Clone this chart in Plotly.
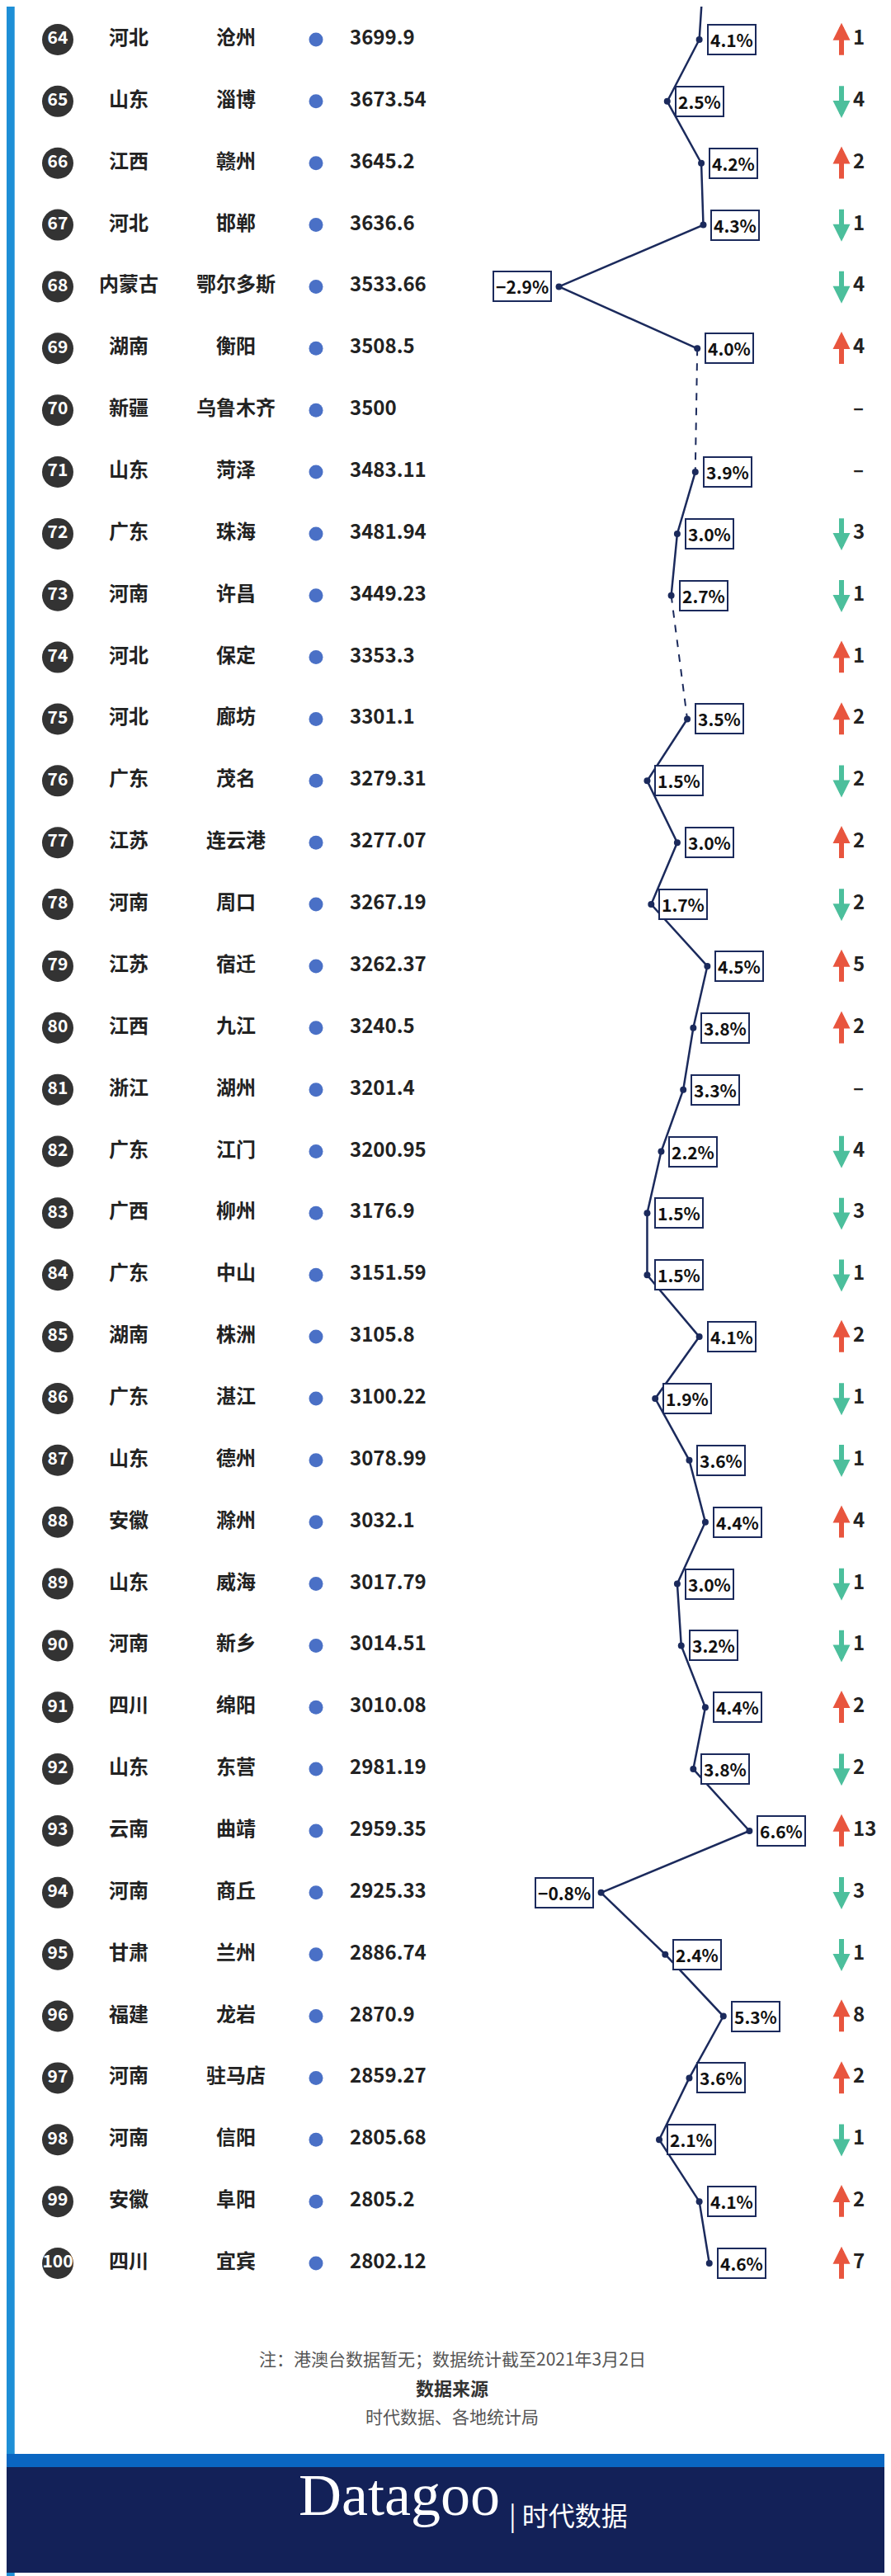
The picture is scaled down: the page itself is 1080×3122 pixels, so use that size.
import plotly.graph_objects as go

# Data
ranks = list(range(64, 101))
provinces = ["河北", "山东", "江西", "河北", "内蒙古", "湖南", "新疆", "山东", "广东", "河南",
             "河北", "河北", "广东", "江苏", "河南", "江苏", "江西", "浙江", "广东", "广西",
             "广东", "湖南", "广东", "山东", "安徽", "山东", "河南", "四川", "山东", "云南",
             "河南", "甘肃", "福建", "河南", "河南", "安徽", "四川"]
cities = ["沧州", "淄博", "赣州", "邯郸", "鄂尔多斯", "衡阳", "乌鲁木齐", "菏泽", "珠海", "许昌",
          "保定", "廊坊", "茂名", "连云港", "周口", "宿迁", "九江", "湖州", "江门", "柳州",
          "中山", "株洲", "湛江", "德州", "滁州", "威海", "新乡", "绵阳", "东营", "曲靖",
          "商丘", "兰州", "龙岩", "驻马店", "信阳", "阜阳", "宜宾"]
gdp = ["3699.9", "3673.54", "3645.2", "3636.6", "3533.66", "3508.5", "3500", "3483.11", "3481.94", "3449.23",
       "3353.3", "3301.1", "3279.31", "3277.07", "3267.19", "3262.37", "3240.5", "3201.4", "3200.95", "3176.9",
       "3151.59", "3105.8", "3100.22", "3078.99", "3032.1", "3017.79", "3014.51", "3010.08", "2981.19", "2959.35",
       "2925.33", "2886.74", "2870.9", "2859.27", "2805.68", "2805.2", "2802.12"]
growth = [4.1, 2.5, 4.2, 4.3, -2.9, 4.0, None, 3.9, 3.0, 2.7,
          None, 3.5, 1.5, 3.0, 1.7, 4.5, 3.8, 3.3, 2.2, 1.5,
          1.5, 4.1, 1.9, 3.6, 4.4, 3.0, 3.2, 4.4, 3.8, 6.6,
          -0.8, 2.4, 5.3, 3.6, 2.1, 4.1, 4.6]
rank_change = [1, -4, 2, -1, -4, 4, 0, 0, -3, -1,
               1, 2, -2, 2, -2, 5, 2, 0, -4, -3,
               -1, 2, -1, -1, 4, -1, -1, 2, -2, 13,
               -3, -1, 8, 2, -1, 2, 7]
prev_rank, prev_growth = 63, 4.3  # row above, cut off at the top

NAVY = "#1b2a5c"
FONT = "Noto Sans CJK SC"

fig = go.Figure()

# rank badges
fig.add_trace(go.Scatter(x=[62] * len(ranks), y=ranks, mode="markers+text",
                         marker=dict(size=38, color="#333333"),
                         text=[f"<b>{r}</b>" for r in ranks], textposition="middle center",
                         textfont=dict(color="white", size=21, family=FONT),
                         showlegend=False, hoverinfo="skip"))
fig.add_trace(go.Scatter(x=[148] * len(ranks), y=ranks, mode="text",
                         text=[f"<b>{p}</b>" for p in provinces],
                         textfont=dict(color="#222", size=24, family=FONT),
                         showlegend=False, hoverinfo="skip"))
fig.add_trace(go.Scatter(x=[278] * len(ranks), y=ranks, mode="text",
                         text=[f"<b>{c}</b>" for c in cities],
                         textfont=dict(color="#222", size=24, family=FONT),
                         showlegend=False, hoverinfo="skip"))
fig.add_trace(go.Scatter(x=[375] * len(ranks), y=ranks, mode="markers",
                         marker=dict(size=17, color="#4a70c6"),
                         showlegend=False, hoverinfo="skip"))
fig.add_trace(go.Scatter(x=[416] * len(ranks), y=ranks, mode="text",
                         text=[f"<b>{g}</b>" for g in gdp],
                         textposition="middle right",
                         textfont=dict(color="#222", size=24, family=FONT),
                         showlegend=False, hoverinfo="skip"))

fig.add_trace(go.Scatter(x=[1026] * len(ranks), y=ranks, mode="text",
                         text=[f"<b>{abs(c)}</b>" if c else "<b>–</b>" for c in rank_change],
                         textposition="middle right",
                         textfont=dict(color="#222", size=24, family=FONT),
                         showlegend=False, hoverinfo="skip"))

# growth line: solid where consecutive, dashed across gaps
gx = [prev_growth] + growth
gy = [prev_rank] + ranks
fig.add_trace(go.Scatter(x=gx, y=gy, xaxis="x2", mode="lines+markers", connectgaps=False,
                         line=dict(color=NAVY, width=2.5), marker=dict(size=8, color=NAVY),
                         showlegend=False, hoverinfo="skip"))
dx, dy = [], []
for i, v in enumerate(growth):
    if v is None and growth[i - 1] is not None:
        j = i + 1
        while growth[j] is None:
            j += 1
        dx += [growth[i - 1], growth[j], None]
        dy += [ranks[i - 1], ranks[j], None]
fig.add_trace(go.Scatter(x=dx, y=dy, xaxis="x2", mode="lines",
                         line=dict(color=NAVY, width=2, dash="dash"),
                         showlegend=False, hoverinfo="skip"))

annotations = []
for r, v in zip(ranks, growth):
    if v is None:
        continue
    annotations.append(dict(x=v, y=r, xref="x2", yref="y",
                            text="<b>" + f"{v:.1f}%".replace("-", "−") + "</b>",
                            showarrow=False, xanchor="left" if v >= 0 else "right",
                            xshift=9 if v >= 0 else -9,
                            font=dict(size=21, color="#111", family=FONT),
                            bgcolor="white", bordercolor=NAVY, borderwidth=2, borderpad=2))

# rank change arrows
for r, c in zip(ranks, rank_change):
    if c == 0:
        continue
    tip, tail = (r - 0.27, r + 0.27) if c > 0 else (r + 0.27, r - 0.27)
    annotations.append(dict(x=1012, y=tip, ax=1012, ay=tail, xref="x", yref="y",
                            axref="x", ayref="y", text="", showarrow=True,
                            arrowhead=2, arrowsize=0.7, arrowwidth=6,
                            arrowcolor="#e8553e" if c > 0 else "#4cbf9c"))

annotations += [
    dict(x=0.5, y=1 - 2867 / 3122, xref="paper", yref="paper", showarrow=False,
         text="注：港澳台数据暂无；数据统计截至2021年3月2日",
         font=dict(size=21, color="#555", family=FONT)),
    dict(x=0.5, y=1 - 2903 / 3122, xref="paper", yref="paper", showarrow=False,
         text="<b>数据来源</b>", font=dict(size=22, color="#333", family=FONT)),
    dict(x=0.5, y=1 - 2937 / 3122, xref="paper", yref="paper", showarrow=False,
         text="时代数据、各地统计局", font=dict(size=21, color="#555", family=FONT)),
    dict(x=0.556, y=1 - 3058 / 3122, xref="paper", yref="paper", showarrow=False, xanchor="right",
         text="Datagoo", font=dict(size=72, color="white", family="Liberation Serif")),
    dict(x=0.562, y=1 - 3064 / 3122, xref="paper", yref="paper", showarrow=False, xanchor="left",
         text="| 时代数据", font=dict(size=32, color="white", family=FONT)),
]

shapes = [
    dict(type="rect", xref="paper", yref="paper", x0=0, x1=0.009, y0=0, y1=1,
         fillcolor="#1e8fd6", line_width=0, layer="below"),
    dict(type="rect", xref="paper", yref="paper", x0=0.988, x1=1, y0=0, y1=1,
         fillcolor="#1e8fd6", line_width=0, layer="below"),
    dict(type="rect", xref="paper", yref="paper", x0=0, x1=1, y0=1 - 2995 / 3122, y1=1 - 2966 / 3122,
         fillcolor="#0a66c2", line_width=0, layer="below"),
    dict(type="rect", xref="paper", yref="paper", x0=0, x1=1, y0=1 - 3110 / 3122, y1=1 - 2982 / 3122,
         fillcolor="#132158", line_width=0, layer="below"),
]

px_per_rank = (2735 - 40) / 36
y_top = 64 - 40 / px_per_rank
y_bot = y_top + 3122 / px_per_rank
zero_px, px_per_pct = 740, 24.3

fig.update_layout(
    width=1080, height=3122, margin=dict(l=0, r=0, t=0, b=0),
    paper_bgcolor="white", plot_bgcolor="white",
    xaxis=dict(range=[0, 1080], visible=False, fixedrange=True),
    xaxis2=dict(range=[-zero_px / px_per_pct, (1080 - zero_px) / px_per_pct],
                overlaying="x", visible=False),
    yaxis=dict(range=[y_bot, y_top], visible=False),
    annotations=annotations, shapes=shapes,
)

fig.write_html("out.html")
